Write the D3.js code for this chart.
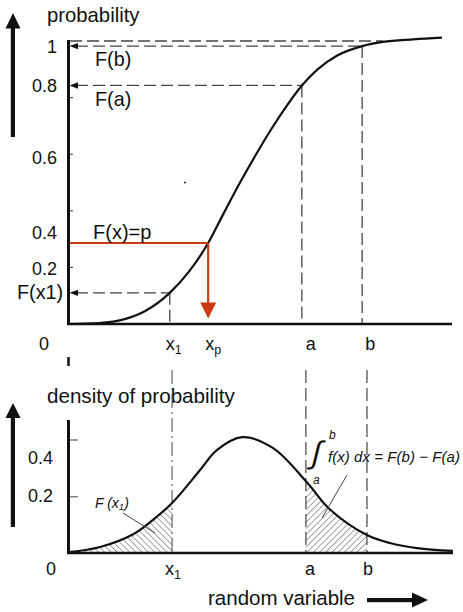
<!DOCTYPE html>
<html>
<head>
<meta charset="utf-8">
<script src="https://cdn.jsdelivr.net/npm/d3@7"></script>
<style>
  html, body { margin: 0; padding: 0; background: #fff; }
  svg { display: block; }
  text { font-family: "Liberation Sans", Arial, sans-serif; fill: #111; }
</style>
</head>
<body>
<svg id="chart" width="463" height="612"></svg>
<script>
// ---- data ----
// cumulative distribution F(x)
const cdfX = [0, 0.8, 1.5, 2.0, 2.65, 3.15, 3.65, 4.05, 4.48, 4.9, 5.3, 5.7, 6.09, 6.5, 7.0, 7.66, 8.2, 9.0, 9.74];
const cdfY = [0, 0.003, 0.018, 0.045, 0.11, 0.185, 0.286, 0.39, 0.50, 0.60, 0.69, 0.772, 0.843, 0.90, 0.948, 0.982, 0.997, 1.006, 1.012];
// probability density f(x)
const pdfX = [0, 0.80, 1.65, 2.08, 2.65, 3.37, 3.80, 4.45, 5.24, 6.12, 6.71, 7.66, 8.25, 8.95, 9.87];
const pdfY = [0.005, 0.023, 0.068, 0.11, 0.178, 0.294, 0.364, 0.41, 0.372, 0.25, 0.155, 0.065, 0.037, 0.019, 0.009];

// marked points on the random-variable axis
const markNames = ["x1", "xp", "a", "b"];
const markX     = [2.65, 3.65, 6.09, 7.66];
const markF     = [0.11, 0.286, 0.843, 0.982];   // F at each mark
const fullLevelEnd = 8.2;                         // where F reaches 1

// tick marks and labels
const topTicks = [0.2, 0.4, 0.6, 0.8];
const topTickLabels = ["1", "0.8", "0.6", "0.4", "0.2"];
const topTickLabelAt = [0.982, 0.843, 0.59, 0.325, 0.195];
const botTicks = [0.2, 0.4];
const botTickLabels = ["0.4", "0.2"];
const botTickLabelAt = [0.337, 0.204];

const cdf = cdfX.map((x, i) => ({ x, y: cdfY[i] }));
const pdf = pdfX.map((x, i) => ({ x, y: pdfY[i] }));
const marks = markNames.map((n, i) => ({ name: n, x: markX[i], F: markF[i] }));
const M = Object.fromEntries(marks.map(m => [m.name, m]));

const svg = d3.select("#chart");
const RED = "#cc3a14";

// ---- scales ----
const xTop = d3.scaleLinear().domain([0, 10]).range([68, 452]);
const yTop = d3.scaleLinear().domain([0, 1]).range([324, 41]);
const xBot = d3.scaleLinear().domain([0, 10]).range([69, 458]);
const yBot = d3.scaleLinear().domain([0, 0.4]).range([553.5, 440]);

// ---- hatch patterns ----
const defs = svg.append("defs");
function hatch(id, angle) {
  const p = defs.append("pattern").attr("id", id)
    .attr("patternUnits", "userSpaceOnUse").attr("width", 4.4).attr("height", 4.4)
    .attr("patternTransform", `rotate(${angle})`);
  p.append("line").attr("x1", 0).attr("y1", 0).attr("x2", 0).attr("y2", 4.4)
    .attr("stroke", "#333").attr("stroke-width", 0.9);
}
hatch("hatchL", -45);
hatch("hatchR", 45);

// ---- helpers ----
function poly(g, pts, fill) {
  g.append("path").attr("d", "M" + pts.map(p => p.join(",")).join("L") + "Z").attr("fill", fill);
}
function dashed(g, x1, y1, x2, y2, style) {
  const l = g.append("line").attr("x1", x1).attr("y1", y1).attr("x2", x2).attr("y2", y2);
  Object.entries(style).forEach(([k, v]) => l.attr(k, v));
  return l;
}
function xLabel(g, x, y, main, sub) {
  const t = g.append("text").attr("x", x).attr("y", y).attr("font-size", 18).attr("text-anchor", "middle");
  t.append("tspan").text(main);
  if (sub) t.append("tspan").attr("font-size", 12.5).attr("dy", 4).text(sub);
}
const dash = { stroke: "#444", "stroke-width": 1.3, "stroke-dasharray": "12,5", fill: "none" };

// ================= TOP: cumulative distribution =================
const gTop = svg.append("g");

// direction arrow for probability
gTop.append("rect").attr("x", 10.8).attr("y", 27).attr("width", 4.2).attr("height", 110).attr("fill", "#111");
poly(gTop, [[5.5, 28.5], [20.5, 28.5], [13, 13]], "#111");
gTop.append("text").attr("x", 47).attr("y", 22).attr("font-size", 20.3).text("probability");

// tick marks
gTop.selectAll(".tt").data(topTicks).join("line")
  .attr("x1", xTop(0)).attr("x2", xTop(0) + 5)
  .attr("y1", d => yTop(d)).attr("y2", d => yTop(d))
  .attr("stroke", "#555").attr("stroke-width", 1.2);

// tick labels
gTop.selectAll(".tl").data(topTickLabels).join("text")
  .attr("x", 57).attr("y", (d, i) => yTop(topTickLabelAt[i]) + 6.5)
  .attr("text-anchor", "end").attr("font-size", 18).text(d => d);

// F = 1 level
dashed(gTop, xTop(0) + 2, yTop(1), xTop(fullLevelEnd), yTop(1), dash);
// F(x1), F(a), F(b)
["x1", "a", "b"].forEach(n => {
  const m = M[n];
  dashed(gTop, xTop(0) + 8, yTop(m.F), xTop(m.x), yTop(m.F), dash);
  dashed(gTop, xTop(m.x), yTop(m.F), xTop(m.x), yTop(0), dash);
  poly(gTop, [[xTop(0) + 1.5, yTop(m.F)], [xTop(0) + 10, yTop(m.F) - 3.2], [xTop(0) + 10, yTop(m.F) + 3.2]], "#111");
});

// axes
gTop.append("line").attr("x1", 68.5).attr("y1", 40).attr("x2", 68.5).attr("y2", 325)
  .attr("stroke", "#111").attr("stroke-width", 3);
gTop.append("line").attr("x1", 67).attr("y1", 324).attr("x2", 452).attr("y2", 324)
  .attr("stroke", "#111").attr("stroke-width", 2.4);

// curve
gTop.append("path").datum(cdf)
  .attr("d", d3.line().x(d => xTop(d.x)).y(d => yTop(d.y)).curve(d3.curveMonotoneX))
  .attr("fill", "none").attr("stroke", "#111").attr("stroke-width", 2.2);

// inverse lookup F(x) = p  ->  x_p
const xp = M.xp;
gTop.append("line").attr("x1", 70).attr("x2", xTop(xp.x)).attr("y1", yTop(xp.F)).attr("y2", yTop(xp.F))
  .attr("stroke", RED).attr("stroke-width", 2);
gTop.append("line").attr("x1", xTop(xp.x)).attr("x2", xTop(xp.x)).attr("y1", yTop(xp.F)).attr("y2", 304)
  .attr("stroke", RED).attr("stroke-width", 2.2);
poly(gTop, [[xTop(xp.x) - 8, 302.5], [xTop(xp.x) + 8, 302.5], [xTop(xp.x), 318.5]], RED);

// annotations
gTop.append("text").attr("x", 95).attr("y", 66).attr("font-size", 19.8).text("F(b)");
gTop.append("text").attr("x", 95).attr("y", 106).attr("font-size", 19.8).text("F(a)");
gTop.append("text").attr("x", 93).attr("y", 239).attr("font-size", 20).text("F(x)=p");
gTop.append("text").attr("x", 17).attr("y", 299).attr("font-size", 19.8).text("F(x1)");
gTop.append("circle").attr("cx", 185).attr("cy", 182.5).attr("r", 1.1).attr("fill", "#333");

// x labels
xLabel(gTop, 44, 350, "0");
xLabel(gTop, xTop(M.x1.x) + 4, 350, "x", "1");
xLabel(gTop, xTop(M.xp.x) + 5, 350, "x", "p");
xLabel(gTop, xTop(M.a.x) + 9, 350, "a");
xLabel(gTop, xTop(M.b.x) + 8, 350, "b");

// ================= BOTTOM: probability density =================
const gBot = svg.append("g");

gBot.append("rect").attr("x", 10.8).attr("y", 416).attr("width", 4.2).attr("height", 111).attr("fill", "#111");
poly(gBot, [[5.5, 418], [20.5, 418], [13, 403]], "#111");
gBot.append("text").attr("x", 47).attr("y", 403).attr("font-size", 20.6).text("density of probability");

// stray axis stub between the panels
gBot.append("line").attr("x1", 68.5).attr("x2", 68.5).attr("y1", 357).attr("y2", 366)
  .attr("stroke", "#111").attr("stroke-width", 2.5);

// hatched areas
const areaGen = d3.area().x(d => xBot(d.x)).y0(yBot(0)).y1(d => yBot(d.y)).curve(d3.curveCatmullRom.alpha(0.5));
function hatched(x0, x1, pat, id) {
  defs.append("clipPath").attr("id", id).append("rect")
    .attr("x", xBot(x0)).attr("y", 400).attr("width", xBot(x1) - xBot(x0)).attr("height", 160);
  gBot.append("path").datum(pdf).attr("d", areaGen)
    .attr("fill", `url(#${pat})`).attr("clip-path", `url(#${id})`);
}
hatched(0, M.x1.x, "hatchL", "clipL");
hatched(M.a.x, M.b.x, "hatchR", "clipR");

// vertical guides
dashed(gBot, xBot(M.x1.x), 370, xBot(M.x1.x), yBot(0),
  { stroke: "#555", "stroke-width": 1.1, "stroke-dasharray": "14,4,2,4", fill: "none" });
["a", "b"].forEach(n => dashed(gBot, xBot(M[n].x), 370, xBot(M[n].x), yBot(0),
  { stroke: "#444", "stroke-width": 1.2, "stroke-dasharray": "13,5", fill: "none" }));

// ticks + labels
gBot.selectAll(".bt").data(botTicks).join("line")
  .attr("x1", 68).attr("x2", 78).attr("y1", d => yBot(d)).attr("y2", d => yBot(d))
  .attr("stroke", "#666").attr("stroke-width", 1.2);
gBot.selectAll(".bl").data(botTickLabels).join("text")
  .attr("x", 53).attr("y", (d, i) => yBot(botTickLabelAt[i]) + 6.5)
  .attr("text-anchor", "end").attr("font-size", 18).text(d => d);

// axes
gBot.append("line").attr("x1", 68.5).attr("y1", 420).attr("x2", 68.5).attr("y2", 554)
  .attr("stroke", "#111").attr("stroke-width", 3);
gBot.append("line").attr("x1", 67).attr("y1", 553).attr("x2", 453).attr("y2", 553)
  .attr("stroke", "#111").attr("stroke-width", 2.4);

// density curve
gBot.append("path").datum(pdf)
  .attr("d", d3.line().x(d => xBot(d.x)).y(d => yBot(d.y)).curve(d3.curveCatmullRom.alpha(0.5)))
  .attr("fill", "none").attr("stroke", "#111").attr("stroke-width", 2.2);

// annotation: F(x1)
const fx1 = gBot.append("text").attr("x", 95).attr("y", 508).attr("font-size", 14)
  .attr("font-style", "italic").attr("fill", "#333");
fx1.append("tspan").text("F (x");
fx1.append("tspan").attr("font-size", 9.5).attr("dy", 2).text("1");
fx1.append("tspan").attr("dy", -2).text(")");
gBot.append("line").attr("x1", 123).attr("y1", 513).attr("x2", 155).attr("y2", 533)
  .attr("stroke", "#444").attr("stroke-width", 1);

// annotation: integral from a to b
gBot.append("g").attr("transform", "translate(310,463) skewX(-14)")
  .append("text").attr("font-size", 31)
  .attr("font-family", "DejaVu Sans").attr("fill", "#333").text("∫");
gBot.append("text").attr("x", 329).attr("y", 439).attr("font-size", 12)
  .attr("font-style", "italic").attr("fill", "#333").text("b");
gBot.append("text").attr("x", 313).attr("y", 484).attr("font-size", 12)
  .attr("font-style", "italic").attr("fill", "#333").text("a");
gBot.append("text").attr("x", 328).attr("y", 462).attr("font-size", 15)
  .attr("font-style", "italic").attr("fill", "#333")
  .attr("textLength", 132).attr("lengthAdjust", "spacing")
  .text("f(x) dx = F(b) − F(a)");
gBot.append("line").attr("x1", 347).attr("y1", 475).attr("x2", 322).attr("y2", 518)
  .attr("stroke", "#444").attr("stroke-width", 1);

// x labels
xLabel(gBot, 51, 575, "0");
xLabel(gBot, xBot(M.x1.x) + 1, 575, "x", "1");
xLabel(gBot, xBot(M.a.x) + 4, 575, "a");
xLabel(gBot, xBot(M.b.x) + 1, 575, "b");

// random variable direction
gBot.append("text").attr("x", 208).attr("y", 605).attr("font-size", 20.5).text("random variable");
gBot.append("rect").attr("x", 367).attr("y", 598).attr("width", 47).attr("height", 4.2).attr("fill", "#111");
poly(gBot, [[412, 592.5], [412, 607.5], [428, 600]], "#111");
</script>
</body>
</html>
